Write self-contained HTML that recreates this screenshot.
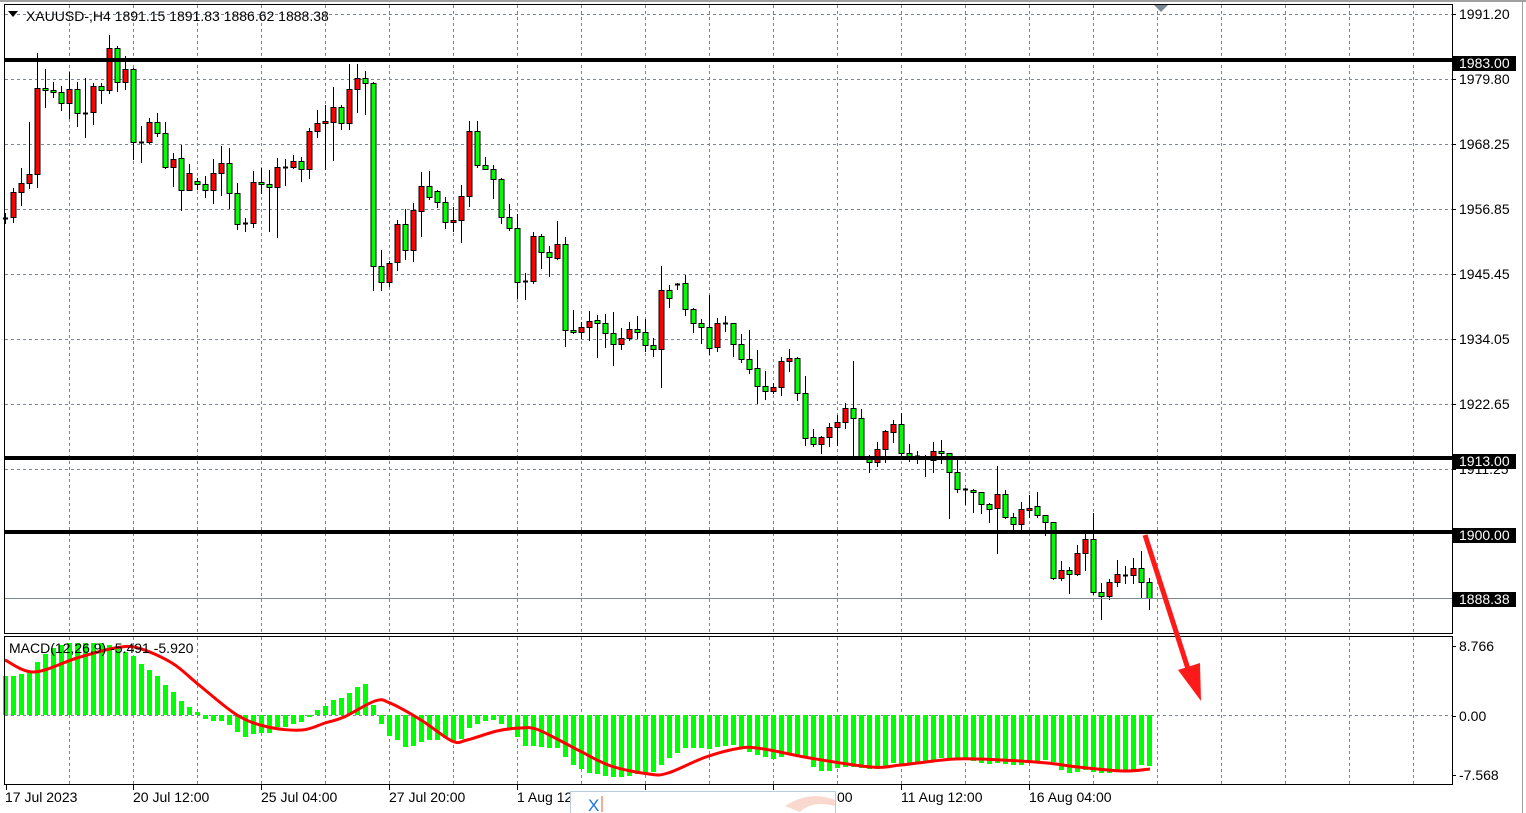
<!DOCTYPE html>
<html><head><meta charset="utf-8"><style>
html,body{margin:0;padding:0;background:#fff;width:1526px;height:813px;overflow:hidden}
svg{display:block}
text{font-family:"Liberation Sans",sans-serif;font-size:14px;fill:#000}
</style></head><body>
<svg id="s" width="1526" height="813" xmlns="http://www.w3.org/2000/svg">
<rect x="0" y="0" width="1526" height="813" fill="#fff"/>
<line x1="0" y1="1" x2="1526" y2="1" stroke="#a0a0a0" stroke-width="2"/>
<g id="grid" stroke="#7b8794" stroke-width="1" stroke-dasharray="3,3"></g>
<g id="cand"></g>
<g id="macd"></g>
<rect x="4.5" y="4.5" width="1448" height="629" fill="none" stroke="#000"/>
<rect x="4.5" y="636.5" width="1448" height="148" fill="none" stroke="#000"/>
<line x1="1522.5" y1="0" x2="1522.5" y2="813" stroke="#a0a0a0"/>
<line x1="5" y1="60" x2="1452" y2="60" stroke="#000" stroke-width="4"/>
<line x1="5" y1="458" x2="1452" y2="458" stroke="#000" stroke-width="4"/>
<line x1="5" y1="532" x2="1452" y2="532" stroke="#000" stroke-width="4"/>
<line x1="5" y1="598.5" x2="1452" y2="598.5" stroke="#7b8794" stroke-width="1"/>
<polygon points="1154,5 1168,5 1161,12" fill="#7b8794"/>
<line x1="1145" y1="535" x2="1189" y2="672" stroke="#ff1a1a" stroke-width="5"/>
<polygon points="1178,670 1200,663 1201,701" fill="#ff1a1a"/>
<polygon points="8,11 18,11 13,17" fill="#000"/>
<text x="26" y="21">XAUUSD-,H4  1891.15 1891.83 1886.62 1888.38</text>
<text x="9" y="653">MACD(12,26,9) -5.491 -5.920</text>
<g id="axis"></g>
<rect x="570.5" y="791.5" width="265" height="22" fill="#fff" stroke="#b8cce0"/>
<text x="588" y="811" style="fill:#1a73e8;font-size:17px">X</text>
<line x1="602" y1="796" x2="602" y2="812" stroke="#e53"/>
<path d="M785,806 Q810,790 835,800 L835,806 Q812,800 800,812 Z" fill="#f6c8b8" opacity="0.7"/>
</svg>
<script>
const NS="http://www.w3.org/2000/svg";
function el(p,t,a){const e=document.createElementNS(NS,t);for(const k in a)e.setAttribute(k,a[k]);p.appendChild(e);return e;}
const grid=document.getElementById('grid');
[14,79,144,209,274,339,404,469].forEach(y=>el(grid,'line',{x1:5,y1:y+.5,x2:1452,y2:y+.5}));
el(grid,'line',{x1:5,y1:715.5,x2:1452,y2:715.5});
for(let x=69;x<1452;x+=64){el(grid,'line',{x1:x+.5,y1:5,x2:x+.5,y2:633});el(grid,'line',{x1:x+.5,y1:637,x2:x+.5,y2:784});}
const C=[
[218,218,213,223,'d'],[192,217,188,222,'r'],[183,192,168,205,'r'],[174,183,122,188,'r'],[88,174,53,187,'r'],
[88,90,69,107,'g'],[90,92,82,97,'g'],[92,103,86,110,'g'],[89,103,72,118,'r'],[89,113,82,126,'g'],
[113,113,78,137,'d'],[86,112,83,124,'r'],[86,90,83,103,'g'],[48,90,35,93,'r'],[48,82,46,91,'g'],
[69,82,56,89,'r'],[69,142,68,159,'g'],[142,142,126,162,'d'],[122,142,118,143,'r'],[122,133,113,136,'g'],
[133,167,122,168,'g'],[159,167,153,186,'r'],[158,190,145,210,'g'],[173,190,164,190,'r'],[181,184,178,189,'g'],
[184,190,176,197,'g'],[173,190,159,203,'r'],[163,173,146,195,'r'],[163,193,148,208,'g'],[193,224,183,229,'g'],
[223,223,218,231,'d'],[182,223,171,227,'r'],[182,184,168,193,'g'],[184,187,170,231,'g'],[167,187,158,237,'r'],
[167,167,159,185,'d'],[161,167,155,168,'r'],[161,169,157,181,'g'],[131,169,128,178,'r'],[123,131,110,137,'r'],
[121,123,105,169,'r'],[107,122,87,160,'r'],[107,123,105,129,'g'],[89,123,64,129,'r'],[78,89,64,112,'r'],
[78,83,71,114,'g'],[83,266,82,290,'g'],[266,282,250,290,'g'],[263,282,261,286,'r'],[224,262,220,270,'r'],
[224,250,209,259,'g'],[210,250,203,261,'r'],[186,211,172,236,'r'],[186,197,171,199,'g'],[191,202,190,207,'g'],
[202,222,197,228,'g'],[220,222,207,231,'r'],[196,220,185,242,'r'],[131,196,121,206,'r'],[131,165,121,167,'g'],
[165,169,157,169,'g'],[169,179,165,198,'g'],[179,217,178,223,'g'],[217,228,204,230,'g'],[228,282,214,298,'g'],
[281,281,273,299,'d'],[236,281,232,283,'r'],[236,252,234,268,'g'],[252,257,246,276,'g'],[244,258,221,259,'r'],
[244,330,237,346,'g'],[330,332,310,333,'g'],[327,332,322,338,'r'],[321,327,311,340,'r'],[320,323,315,357,'g'],
[323,333,314,347,'g'],[333,344,312,365,'g'],[338,344,328,349,'r'],[329,338,322,340,'r'],[329,332,316,338,'g'],
[332,345,319,351,'g'],[345,349,338,356,'g'],[290,349,266,387,'r'],[290,298,285,307,'g'],[284,284,283,289,'d'],
[283,309,275,315,'g'],[309,323,308,332,'g'],[323,327,319,343,'g'],[327,348,295,354,'g'],[323,347,318,351,'r'],
[323,323,316,331,'d'],[323,344,323,356,'g'],[344,359,334,362,'g'],[359,369,330,373,'g'],[368,386,350,403,'g'],
[386,391,371,399,'g'],[387,391,383,393,'r'],[361,387,357,395,'r'],[358,361,349,371,'r'],[358,393,357,400,'g'],
[393,438,376,445,'g'],[437,444,429,446,'g'],[437,444,436,453,'r'],[427,437,423,446,'r'],[422,427,415,445,'r'],
[408,422,403,428,'r'],[408,418,361,458,'g'],[418,458,409,458,'g'],[458,462,455,472,'g'],[449,462,442,466,'r'],
[431,449,430,462,'r'],[424,432,420,442,'r'],[424,453,413,458,'g'],[453,456,444,461,'g'],[456,456,451,463,'d'],
[457,457,455,476,'d'],[451,460,442,472,'r'],[451,453,440,463,'g'],[453,472,453,518,'g'],[472,489,460,492,'g'],
[489,489,488,504,'d'],[490,492,489,512,'g'],[492,504,492,513,'g'],[504,509,503,522,'g'],[494,508,466,553,'r'],
[494,517,490,518,'g'],[517,524,513,530,'g'],[509,524,502,530,'r'],[508,509,495,517,'r'],[506,515,492,517,'g'],
[515,522,518,535,'g'],[522,578,522,579,'g'],[570,578,561,580,'r'],[570,574,567,593,'g'],[553,574,545,575,'r'],
[539,553,534,570,'r'],[539,592,513,594,'g'],[592,596,583,619,'g'],[582,596,579,599,'r'],[574,582,560,586,'r'],
[575,575,566,583,'d'],[568,575,558,583,'r'],[568,582,551,598,'g'],[582,598,578,609,'g']];
const cg=document.getElementById('cand');
C.forEach((c,i)=>{const x=5+8*i;
 el(cg,'line',{x1:x+.5,y1:c[2],x2:x+.5,y2:c[3]+1,stroke:'#000','stroke-width':1});
 if(c[4]==='d'){el(cg,'line',{x1:x-2,y1:c[0]+.5,x2:x+3,y2:c[0]+.5,stroke:'#000','stroke-width':2});}
 else{let h=Math.max(c[1]-c[0],2);el(cg,'rect',{x:x-2,y:c[0]+.5,width:5,height:h,fill:c[4]==='r'?'#ff0000':'#00ff00',stroke:'#000','stroke-width':1});}
});
const H1=[676,676,674,673,662,654,648,645,643,643,643,643,643,645,648,652,656,664,670,676,685,692,701,707,712,719,721,721,725,732,737,734,733,733,727,727,724,722,717,710,706,700,698,693,687,684,705,724,736,740,747,746,742,740,740,738,741,739,728,724,721,720,724,728,737,746,746,747,748,748,757,765];
const Z2=[418,428,432,438,442,442,437,432,428,425,405,385,368,355,355,355,358,350,348,346,352,366,375,382,388,380,372,375,385,412,422,422,415,410,410,415,418,417,412,400,405,398,398,393,390,385,385,385,388,392,400,402,400,402,405,405,398,393,390,395,420,428,425,420,425,430,430,425,425,420,405,408];
const H=H1.concat(Z2.map(v=>Math.round(630+v/3)));
const mg=document.getElementById('macd');
H.forEach((v,i)=>{const x=5+8*i;const y0=Math.min(715,v),y1=Math.max(715,v);el(mg,'rect',{x:x-2,y:y0,width:5,height:Math.max(y1-y0,1),fill:'#00ff00'});});
const S=[[5,660],[34,672],[77,658],[115,648],[138,648],[172,663],[199,685],[237,715],[268,727],[302,730],[325,723],[344,717],[375,701],[390,703],[421,720],[452,741],[467,740],[497,731],[520,728],[536,729],[559,740],[580,751],[611,766],[649,774],[668,773],[706,757],[741,748],[764,749],[810,758],[871,767],[901,765],[955,759],[1001,760],[1047,763],[1078,767],[1123,771],[1150,769]];
let d='M'+S[0].join(',');
for(let i=0;i<S.length-1;i++){const p0=S[Math.max(0,i-1)],p1=S[i],p2=S[i+1],p3=S[Math.min(S.length-1,i+2)];
 const c1=[p1[0]+(p2[0]-p0[0])/6,p1[1]+(p2[1]-p0[1])/6],c2=[p2[0]-(p3[0]-p1[0])/6,p2[1]-(p3[1]-p1[1])/6];
 d+=` C${c1[0]},${c1[1]} ${c2[0]},${c2[1]} ${p2[0]},${p2[1]}`;}
el(mg,'path',{d:d,fill:'none',stroke:'#ff0000','stroke-width':3});
const ax=document.getElementById('axis');
[['1991.20',14],['1979.80',79],['1968.25',144],['1956.85',209],['1945.45',274],['1934.05',339],['1922.65',404],['1911.25',469],['8.766',646],['0.00',716],['-7.568',775]].forEach(a=>{
 el(ax,'line',{x1:1452,y1:a[1]+.5,x2:1456,y2:a[1]+.5,stroke:'#000'});
 const t=el(ax,'text',{x:1459,y:a[1]+5});t.textContent=a[0];});
[['1983.00',63],['1913.00',461],['1900.00',535],['1888.38',599]].forEach(a=>{
 el(ax,'rect',{x:1453,y:a[1]-7,width:63,height:15,fill:'#000'});
 const t=el(ax,'text',{x:1459,y:a[1]+5,style:'fill:#fff'});t.textContent=a[0];});
[6,133,261,389,517,645,773,901,1029].forEach(x=>el(ax,'line',{x1:x+.5,y1:785,x2:x+.5,y2:790,stroke:'#000'}));
[['17 Jul 2023',5],['20 Jul 12:00',133],['25 Jul 04:00',261],['27 Jul 20:00',389],['1 Aug 12:00',517],['00',837],['11 Aug 12:00',901],['16 Aug 04:00',1029]].forEach(a=>{
 const t=el(ax,'text',{x:a[1],y:802});t.textContent=a[0];});
const s=document.getElementById('s');
const pop=[...s.children].slice(-4);pop.forEach(n=>s.appendChild(n));
</script>
</body></html>
